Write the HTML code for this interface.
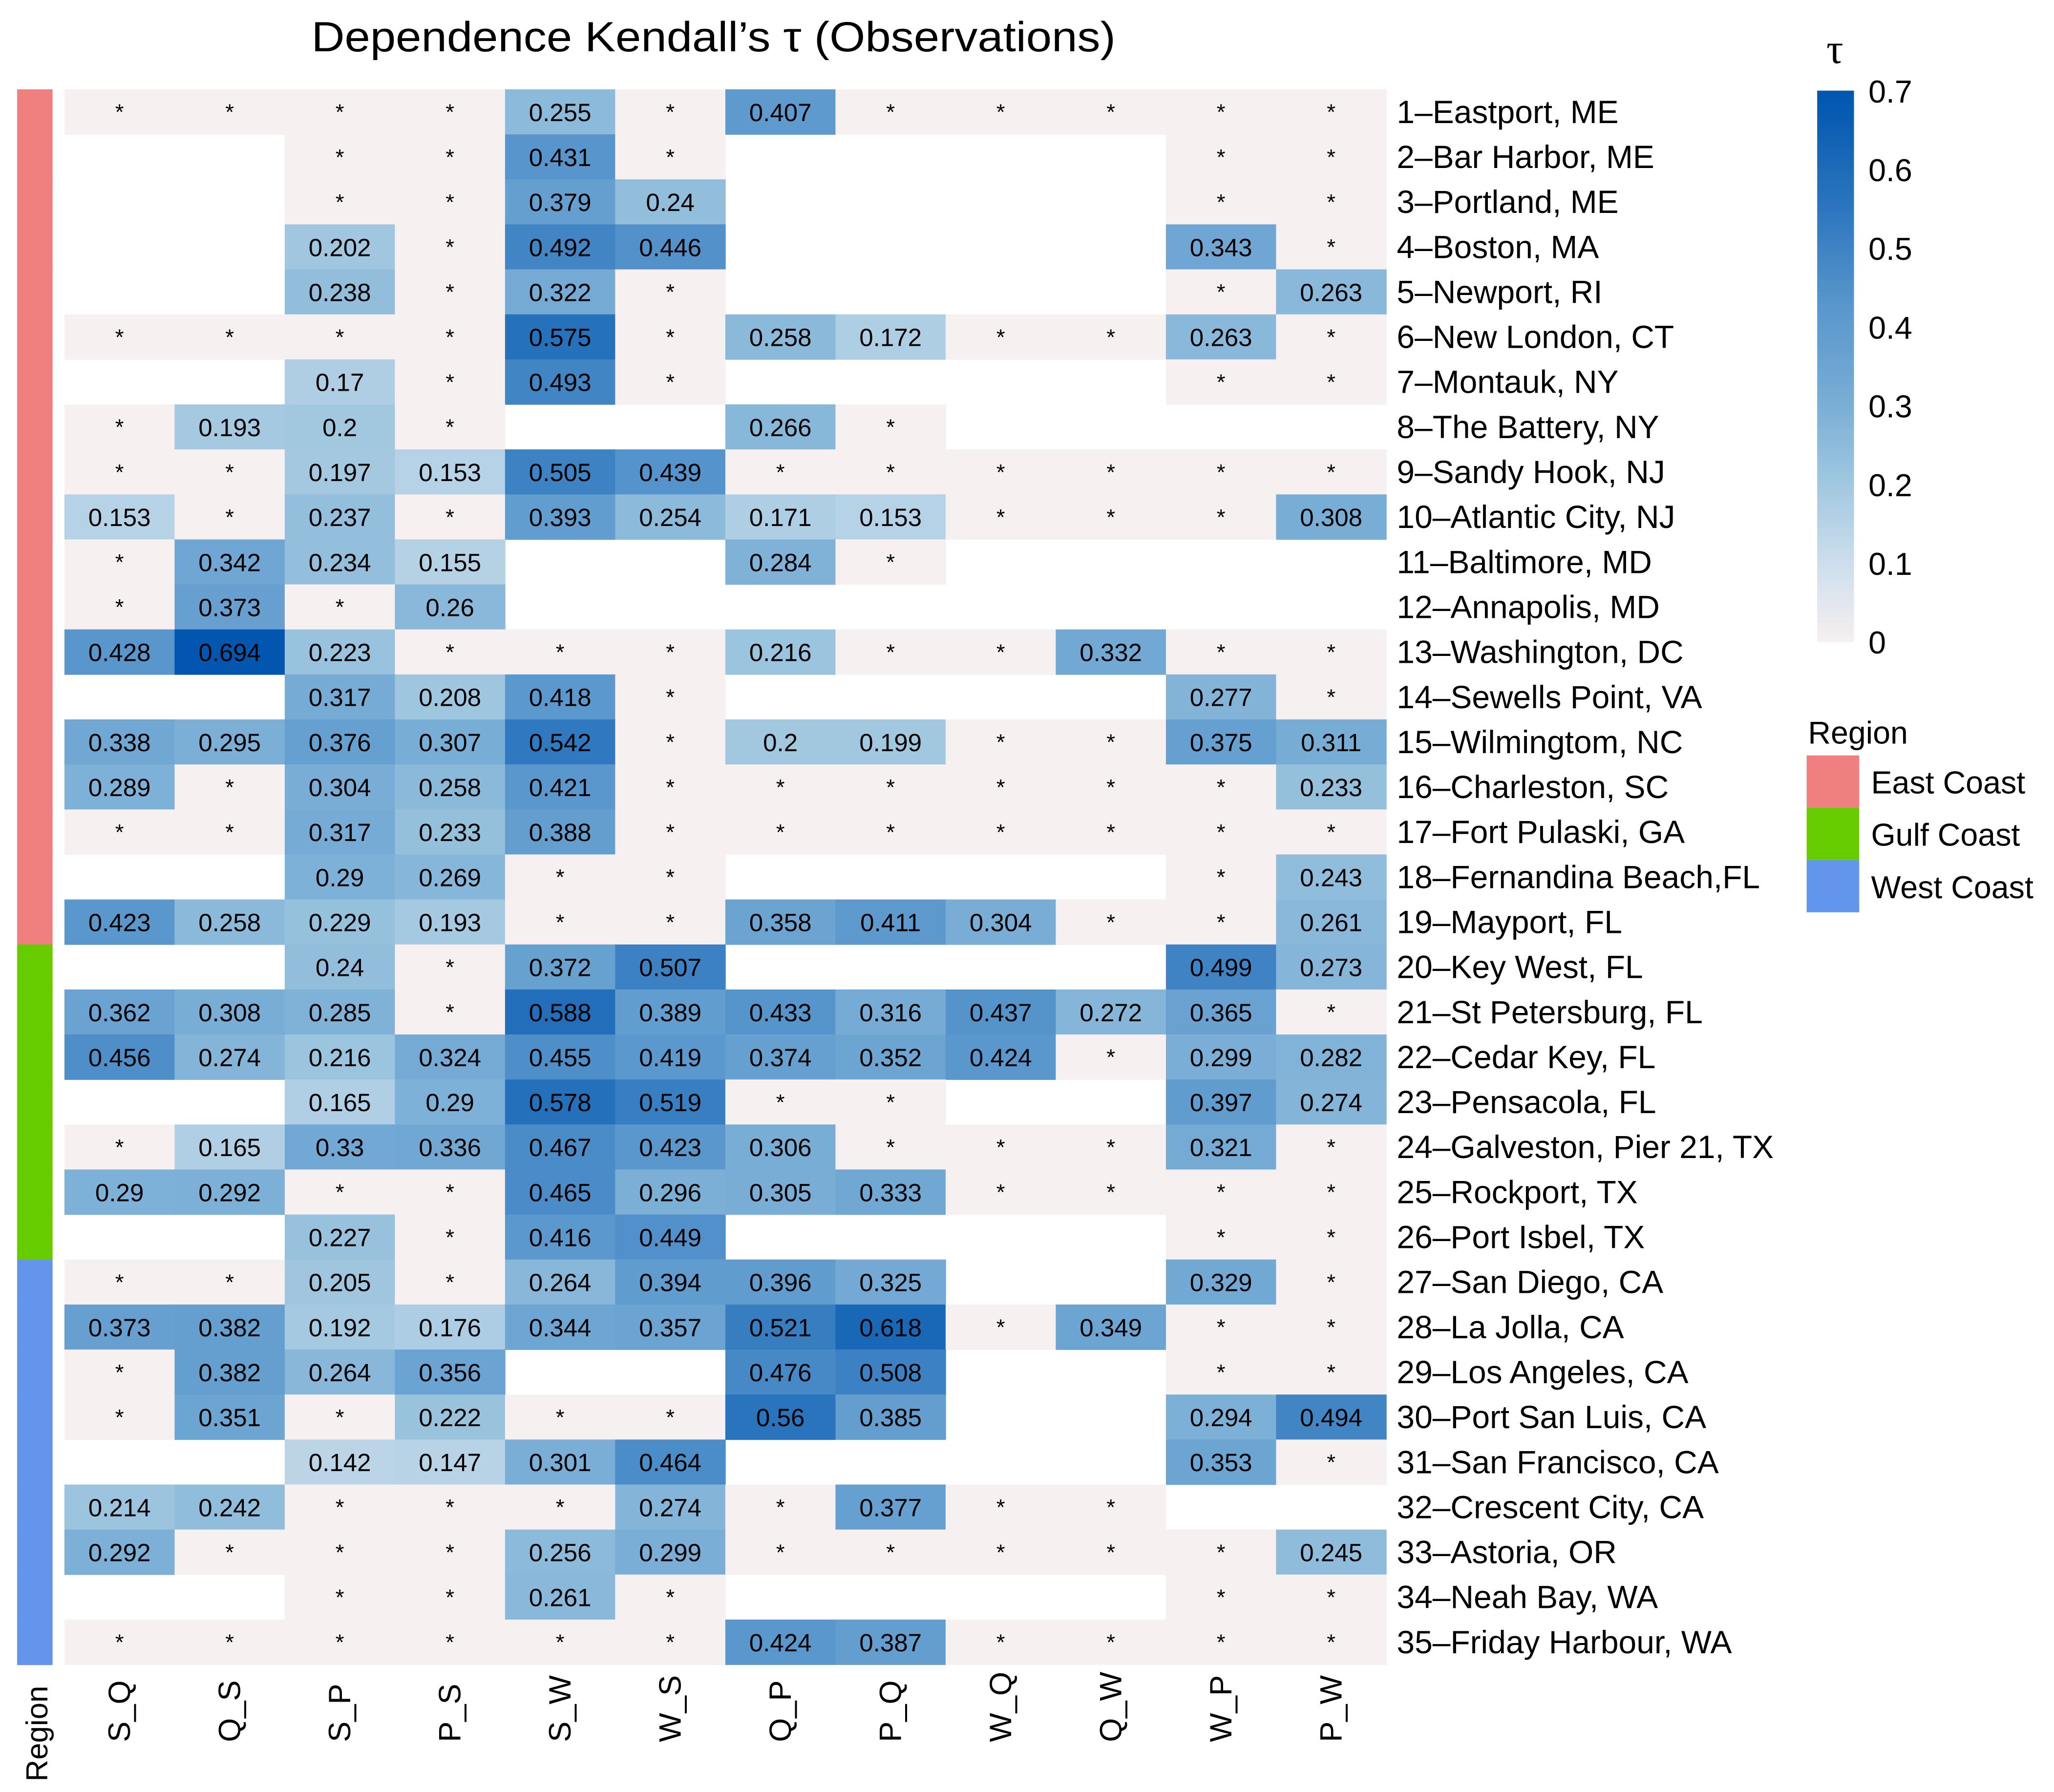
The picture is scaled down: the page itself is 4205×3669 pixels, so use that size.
<!DOCTYPE html>
<html><head><meta charset="utf-8"><style>
html,body{margin:0;padding:0;background:#fff;}
svg{display:block;font-family:"Liberation Sans",sans-serif;}
</style></head><body>
<svg id="chart" width="4205" height="3669" viewBox="0 0 1563.2 1364" xmlns="http://www.w3.org/2000/svg">
<text x="543" y="39" font-size="32" text-anchor="middle" textLength="612" lengthAdjust="spacingAndGlyphs">Dependence Kendall’s  τ (Observations)</text>
<g id="cells"></g>
<g id="regions"></g>
<g id="rowlabels"></g>
<g id="collabels"></g>
<text transform="translate(36,1356) rotate(-90)" font-size="23">Region</text>
<g id="cbar"></g>
<text x="1390" y="48" font-size="32" font-family="Liberation Serif, serif">τ</text>
<g id="legend">
<text x="1376" y="566" font-size="24">Region</text>
</g>
</svg>
<script>
const columns=["S_Q","Q_S","S_P","P_S","S_W","W_S","Q_P","P_Q","W_Q","Q_W","W_P","P_W"];
const stations=["1\u2013Eastport, ME","2\u2013Bar Harbor, ME","3\u2013Portland, ME","4\u2013Boston, MA","5\u2013Newport, RI","6\u2013New London, CT","7\u2013Montauk, NY","8\u2013The Battery, NY","9\u2013Sandy Hook, NJ","10\u2013Atlantic City, NJ","11\u2013Baltimore, MD","12\u2013Annapolis, MD","13\u2013Washington, DC","14\u2013Sewells Point, VA","15\u2013Wilmingtom, NC","16\u2013Charleston, SC","17\u2013Fort Pulaski, GA","18\u2013Fernandina Beach,FL","19\u2013Mayport, FL","20\u2013Key West, FL","21\u2013St Petersburg, FL","22\u2013Cedar Key, FL","23\u2013Pensacola, FL","24\u2013Galveston, Pier 21, TX","25\u2013Rockport, TX","26\u2013Port Isbel, TX","27\u2013San Diego, CA","28\u2013La Jolla, CA","29\u2013Los Angeles, CA","30\u2013Port San Luis, CA","31\u2013San Francisco, CA","32\u2013Crescent City, CA","33\u2013Astoria, OR","34\u2013Neah Bay, WA","35\u2013Friday Harbour, WA"];
const regionOf=["E","E","E","E","E","E","E","E","E","E","E","E","E","E","E","E","E","E","E","G","G","G","G","G","G","G","W","W","W","W","W","W","W","W","W"];
const regionNames=["East Coast","Gulf Coast","West Coast"];
const regionColors=["#f08080","#66cc00","#6495ed"];
// "*" = not significant (drawn at 0), null = missing
const tau=[
["*","*","*","*",0.255,"*",0.407,"*","*","*","*","*"],
[null,null,"*","*",0.431,"*",null,null,null,null,"*","*"],
[null,null,"*","*",0.379,0.24,null,null,null,null,"*","*"],
[null,null,0.202,"*",0.492,0.446,null,null,null,null,0.343,"*"],
[null,null,0.238,"*",0.322,"*",null,null,null,null,"*",0.263],
["*","*","*","*",0.575,"*",0.258,0.172,"*","*",0.263,"*"],
[null,null,0.17,"*",0.493,"*",null,null,null,null,"*","*"],
["*",0.193,0.2,"*",null,null,0.266,"*",null,null,null,null],
["*","*",0.197,0.153,0.505,0.439,"*","*","*","*","*","*"],
[0.153,"*",0.237,"*",0.393,0.254,0.171,0.153,"*","*","*",0.308],
["*",0.342,0.234,0.155,null,null,0.284,"*",null,null,null,null],
["*",0.373,"*",0.26,null,null,null,null,null,null,null,null],
[0.428,0.694,0.223,"*","*","*",0.216,"*","*",0.332,"*","*"],
[null,null,0.317,0.208,0.418,"*",null,null,null,null,0.277,"*"],
[0.338,0.295,0.376,0.307,0.542,"*",0.2,0.199,"*","*",0.375,0.311],
[0.289,"*",0.304,0.258,0.421,"*","*","*","*","*","*",0.233],
["*","*",0.317,0.233,0.388,"*","*","*","*","*","*","*"],
[null,null,0.29,0.269,"*","*",null,null,null,null,"*",0.243],
[0.423,0.258,0.229,0.193,"*","*",0.358,0.411,0.304,"*","*",0.261],
[null,null,0.24,"*",0.372,0.507,null,null,null,null,0.499,0.273],
[0.362,0.308,0.285,"*",0.588,0.389,0.433,0.316,0.437,0.272,0.365,"*"],
[0.456,0.274,0.216,0.324,0.455,0.419,0.374,0.352,0.424,"*",0.299,0.282],
[null,null,0.165,0.29,0.578,0.519,"*","*",null,null,0.397,0.274],
["*",0.165,0.33,0.336,0.467,0.423,0.306,"*","*","*",0.321,"*"],
[0.29,0.292,"*","*",0.465,0.296,0.305,0.333,"*","*","*","*"],
[null,null,0.227,"*",0.416,0.449,null,null,null,null,"*","*"],
["*","*",0.205,"*",0.264,0.394,0.396,0.325,null,null,0.329,"*"],
[0.373,0.382,0.192,0.176,0.344,0.357,0.521,0.618,"*",0.349,"*","*"],
["*",0.382,0.264,0.356,null,null,0.476,0.508,null,null,"*","*"],
["*",0.351,"*",0.222,"*","*",0.56,0.385,null,null,0.294,0.494],
[null,null,0.142,0.147,0.301,0.464,null,null,null,null,0.353,"*"],
[0.214,0.242,"*","*","*",0.274,"*",0.377,"*","*",null,null],
[0.292,"*","*","*",0.256,0.299,"*","*","*","*","*",0.245],
[null,null,"*","*",0.261,"*",null,null,null,null,"*","*"],
["*","*","*","*","*","*",0.424,0.387,"*","*","*","*"]
];
const cbarTicks=[0,0.1,0.2,0.3,0.4,0.5,0.6,0.7];

const NS="http://www.w3.org/2000/svg";
const X0=49,X1=1055,Y0=68,Y1=1267;
const cw=(X1-X0)/columns.length, rh=(Y1-Y0)/stations.length;
const xCol=i=>X0+i*cw, yRow=j=>Y0+j*rh;
const vmin=0,vmax=0.7,CB0=488.5,CB1=69;
const yCb=v=>CB0+(v-vmin)/(vmax-vmin)*(CB1-CB0);
const stops=[[0,[247,240,240]],[0.1,[205,222,236]],[0.216,[155,196,222]],[0.3,[122,174,214]],[0.428,[88,150,204]],[0.55,[45,118,190]],[0.7,[0,85,175]]];
function color(v){
  v=Math.max(vmin,Math.min(vmax,v));
  for(let k=1;k<stops.length;k++){
    if(v<=stops[k][0]){const a=stops[k-1],b=stops[k],t=(v-a[0])/(b[0]-a[0]);
      const c=a[1].map((x,i)=>Math.round(x+(b[1][i]-x)*t));return `rgb(${c})`;}
  }
  return `rgb(${stops[stops.length-1][1]})`;
}
function mk(tag,attrs,parent){const e=document.createElementNS(NS,tag);for(const k in attrs)e.setAttribute(k,attrs[k]);parent.appendChild(e);return e;}

const gC=document.getElementById('cells');
tau.forEach((row,j)=>row.forEach((v,i)=>{
  if(v===null)return;
  const val=v==="*"?0:v;
  const r=mk('rect',{x:xCol(i),y:yRow(j),width:cw+0.3,height:rh+0.3,fill:color(val)},gC);
  
  
  const t=mk('text',{x:xCol(i)+cw/2,y:yRow(j)+rh/2+(v==="*"?6:7),'font-size':v==="*"?17:19,'text-anchor':'middle'},gC);
  t.textContent=v==="*"?"*":String(v);
  
  
}));
const gR=document.getElementById('regions');
regionOf.forEach((r,j)=>{
  const idx="EGW".indexOf(r);
  const e=mk('rect',{x:13,y:yRow(j),width:27,height:rh+0.4,fill:regionColors[idx]},gR);
  
  
});
const gL=document.getElementById('rowlabels');
stations.forEach((s,j)=>{
  const t=mk('text',{x:1063,y:yRow(j)+rh/2+8.5,'font-size':24.5},gL);
  t.textContent=s;
  
  
});
const gX=document.getElementById('collabels');
columns.forEach((c,i)=>{
  const t=mk('text',{transform:`translate(${xCol(i)+cw/2+8},1326) rotate(-90)`,'font-size':23.5},gX);
  t.textContent=c;
  
  
});
const gB=document.getElementById('cbar');
const N=140;
for(let k=0;k<N;k++){
  const v0=vmin+(vmax-vmin)*k/N,v1=vmin+(vmax-vmin)*(k+1)/N;
  const e=mk('rect',{x:1383,y:yCb(v1),width:28,height:yCb(v0)-yCb(v1)+0.3,fill:color((v0+v1)/2)},gB);
  
  
}
cbarTicks.forEach(v=>{
  const t=mk('text',{x:1422,y:yCb(v)+9,'font-size':24},gB);
  t.textContent=String(v);
  
  
});
const gG=document.getElementById('legend');
regionNames.forEach((n,k)=>{
  const r=mk('rect',{x:1375,y:575+k*39.8,width:40,height:39.8,fill:regionColors[k]},gG);
  
  
  const t=mk('text',{x:1424,y:575+k*39.8+29,'font-size':24},gG);
  t.textContent=n;
  
  
});
</script>
</body></html>
